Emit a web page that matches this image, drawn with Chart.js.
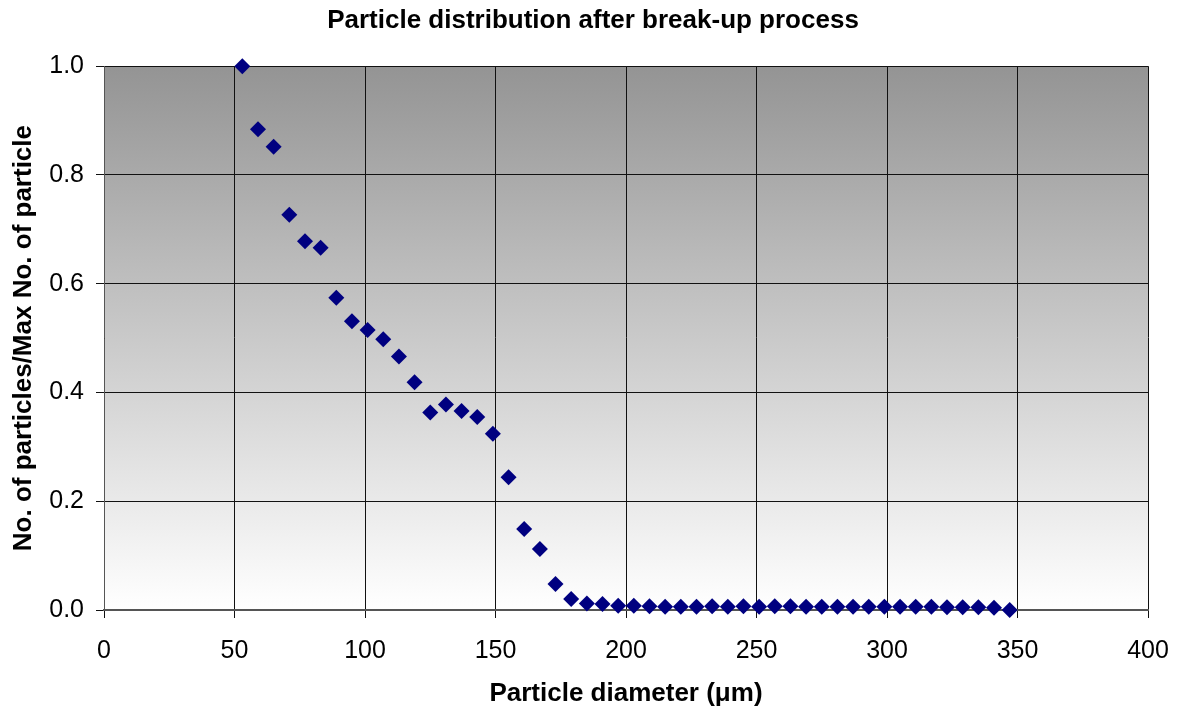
<!DOCTYPE html>
<html>
<head>
<meta charset="utf-8">
<title>Particle distribution after break-up process</title>
<script src="https://cdn.jsdelivr.net/npm/chart.js@4/dist/chart.umd.min.js"></script>
<style>
    html, body { margin: 0; padding: 0; background: #fff; }
    #wrap { width: 1178px; height: 709px; }
</style>
</head>
<body>
<div id="wrap"><canvas id="distChart" width="1178" height="709"></canvas></div>
<script>
// particle diameter (µm)
const diameters = [53, 59, 65, 71, 77, 83, 89, 95, 101, 107, 113, 119, 125, 131, 137, 143, 149, 155, 161, 167,
    173, 179, 185, 191, 197, 203, 209, 215, 221, 227, 233, 239, 245, 251, 257, 263, 269, 275, 281, 287,
    293, 299, 305, 311, 317, 323, 329, 335, 341, 347];

// number of particles normalised by the max count
const relCount = [1.000, 0.884, 0.852, 0.727, 0.678, 0.666, 0.574, 0.531, 0.515, 0.498, 0.466, 0.419, 0.363, 0.378, 0.366, 0.355, 0.324, 0.244, 0.149, 0.112,
    0.048, 0.020, 0.012, 0.011, 0.008, 0.008, 0.007, 0.006, 0.006, 0.006, 0.007, 0.006, 0.007, 0.006, 0.007, 0.007, 0.006, 0.006, 0.006, 0.006,
    0.006, 0.006, 0.006, 0.006, 0.006, 0.005, 0.005, 0.005, 0.004, 0.000];

const xTicks = [0, 50, 100, 150, 200, 250, 300, 350, 400];
const yTicks = [0, 0.2, 0.4, 0.6, 0.8, 1.0];

const points = diameters.map((d, i) => ({ x: d, y: relCount[i] }));

// grey-to-white fill behind the plot area
const plotBackground = {
    id: 'plotBackground',
    beforeDraw(chart) {
        const { ctx, chartArea: a } = chart;
        const g = ctx.createLinearGradient(0, a.top, 0, a.bottom);
        g.addColorStop(0, '#949494');
        g.addColorStop(1, '#ffffff');
        ctx.save();
        ctx.fillStyle = g;
        ctx.fillRect(a.left, a.top, a.right - a.left, a.bottom - a.top);
        ctx.restore();
    }
};

Chart.defaults.font.family = "'Liberation Sans', Arial, sans-serif";
Chart.defaults.color = '#000';

new Chart(document.getElementById('distChart'), {
    type: 'scatter',
    data: {
        datasets: [{
            label: 'distribution',
            data: points,
            clip: false,
            pointStyle: 'rectRot',
            pointRadius: 8,
            pointBackgroundColor: '#000080',
            pointBorderColor: '#000080',
            pointBorderWidth: 0
        }]
    },
    options: {
        responsive: false,
        animation: false,
        layout: { padding: { left: 8, right: 0, top: 0, bottom: 0 } },
        plugins: {
            legend: { display: false },
            tooltip: { enabled: false },
            title: {
                display: true,
                text: 'Particle distribution after break-up process',
                font: { size: 26, weight: 'bold' },
                padding: { top: 5, bottom: 30 }
            }
        },
        scales: {
            x: {
                type: 'linear',
                min: 0,
                max: 400,
                afterBuildTicks: s => { s.ticks = xTicks.map(v => ({ value: v })); },
                ticks: { font: { size: 25 }, padding: 18, maxRotation: 0 },
                grid: { color: '#111', tickLength: 8, lineWidth: 1 },
                border: { color: '#555', width: 2 },
                title: {
                    display: true,
                    text: 'Particle diameter (μm)',
                    font: { size: 26, weight: 'bold' },
                    padding: { top: 6, bottom: 0 }
                },
                afterFit: s => {
                    s.height = 99;
                    s.paddingLeft = 0;
                    s.paddingRight = 30;
                }
            },
            y: {
                min: 0,
                max: 1,
                afterBuildTicks: s => { s.ticks = yTicks.map(v => ({ value: v })); },
                ticks: {
                    font: { size: 25 },
                    padding: 12,
                    callback: v => v.toFixed(1)
                },
                grid: { color: '#111', tickLength: 8, lineWidth: 1 },
                border: { color: '#555', width: 1 },
                title: {
                    display: true,
                    text: 'No. of particles/Max No. of particle',
                    font: { size: 26, weight: 'bold' },
                    padding: { top: 0, bottom: 0 }
                },
                afterFit: s => { s.width = 96; }
            }
        }
    },
    plugins: [plotBackground]
});
</script>
</body>
</html>
